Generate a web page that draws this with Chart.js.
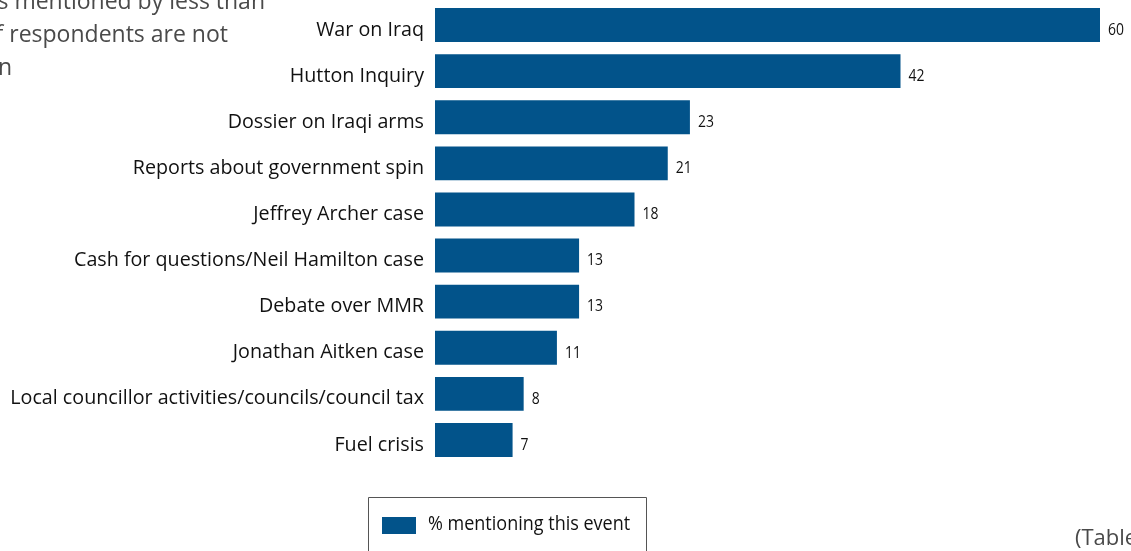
<!DOCTYPE html>
<html>
<head>
<meta charset="utf-8">
<script src="https://cdn.jsdelivr.net/npm/chart.js@4"></script>
<style>
  html, body { margin: 0; padding: 0; background: #ffffff; overflow: hidden; }
  #wrap { position: relative; width: 1131px; height: 551px; }
  canvas { display: block; }
</style>
</head>
<body>
<div id="wrap"><canvas id="chart" width="1131" height="551"></canvas></div>
<script>
// Events and the share of respondents mentioning each one
const events = [
  'War on Iraq',
  'Hutton Inquiry',
  'Dossier on Iraqi arms',
  'Reports about government spin',
  'Jeffrey Archer case',
  'Cash for questions/Neil Hamilton case',
  'Debate over MMR',
  'Jonathan Aitken case',
  'Local councillor activities/councils/council tax',
  'Fuel crisis'
];
const mentioning = [60, 42, 23, 21, 18, 13, 13, 11, 8, 7];
const seriesLabel = '% mentioning this event';
const noteLines = ['Events mentioned by less than', '5% of respondents are not', 'shown'];
const sourceNote = '(Table';

const BAR_BLUE = '#02538a';
const LABEL_FONT = '"Open Sans", "Noto Sans", sans-serif';

// Draws text squeezed horizontally to mimic a condensed face
function condensedText(ctx, text, x, y, squeeze) {
  ctx.save();
  ctx.translate(x, y);
  ctx.scale(squeeze, 1);
  ctx.fillText(text, 0, 0);
  ctx.restore();
}

// Value printed just past the end of each bar
const valueLabels = {
  id: 'valueLabels',
  afterDatasetsDraw(chart) {
    const ctx = chart.ctx;
    const meta = chart.getDatasetMeta(0);
    ctx.save();
    ctx.font = '17px ' + LABEL_FONT;
    ctx.fillStyle = '#111111';
    ctx.textAlign = 'left';
    ctx.textBaseline = 'middle';
    meta.data.forEach((bar, i) => {
      condensedText(ctx, String(mentioning[i]), bar.x + 8, bar.y + 5, 0.82);
    });
    ctx.restore();
  }
};

// Side notes and boxed legend
const annotations = {
  id: 'annotations',
  afterDraw(chart) {
    const ctx = chart.ctx;
    ctx.save();
    // note in the top-left corner, running off the left edge
    ctx.font = '23px ' + LABEL_FONT;
    ctx.fillStyle = '#4a4a4a';
    ctx.textAlign = 'right';
    ctx.textBaseline = 'alphabetic';
    [[265, 9], [228, 42], [12, 75]].forEach(([x, y], i) => ctx.fillText(noteLines[i], x, y));
    // source reference, bottom right
    ctx.textAlign = 'left';
    ctx.font = '22px ' + LABEL_FONT;
    ctx.fillText(sourceNote, 1075, 545);

    // legend box
    const squeeze = 0.9;
    ctx.font = '20px ' + LABEL_FONT;
    const textX = 428;
    const textW = ctx.measureText(seriesLabel).width * squeeze;
    const boxL = 368.5, boxT = 497.5, boxR = Math.round(textX + textW + 16) + 0.5;
    ctx.strokeStyle = '#555555';
    ctx.lineWidth = 1;
    ctx.beginPath();
    ctx.moveTo(boxL, 560);
    ctx.lineTo(boxL, boxT);
    ctx.lineTo(boxR, boxT);
    ctx.lineTo(boxR, 560);
    ctx.stroke();
    ctx.fillStyle = BAR_BLUE;
    ctx.fillRect(382, 517, 34, 17);
    ctx.fillStyle = '#111111';
    ctx.textBaseline = 'middle';
    condensedText(ctx, seriesLabel, textX, 524, squeeze);
    ctx.restore();
  }
};

new Chart(document.getElementById('chart'), {
  type: 'bar',
  data: {
    labels: events,
    datasets: [{
      label: seriesLabel,
      data: mentioning,
      backgroundColor: BAR_BLUE,
      borderWidth: 0,
      categoryPercentage: 1,
      barPercentage: 0.735
    }]
  },
  options: {
    indexAxis: 'y',
    responsive: false,
    animation: false,
    layout: { padding: { top: 2, bottom: 88, right: 31, left: 0 } },
    plugins: {
      legend: { display: false },
      tooltip: { enabled: false }
    },
    scales: {
      x: {
        min: 0,
        max: 60,
        display: false
      },
      y: {
        grid: { display: false, drawTicks: false },
        border: { display: false },
        ticks: {
          color: '#111111',
          font: { family: LABEL_FONT, size: 19.7 },
          padding: 11,
          labelOffset: 5,
          autoSkip: false
        },
        afterFit(scale) {
          scale.width = 435;
          scale.paddingTop = 0;
          scale.paddingBottom = 0;
        }
      }
    }
  },
  plugins: [valueLabels, annotations]
});
</script>
</body>
</html>
